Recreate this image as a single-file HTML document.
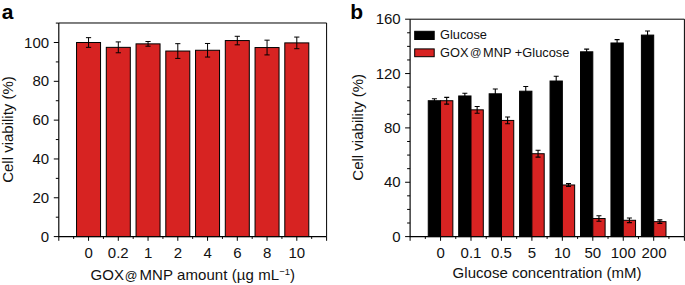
<!DOCTYPE html>
<html><head><meta charset="utf-8"><title>Figure</title>
<style>
html,body{margin:0;padding:0;background:#fff;}
body{width:685px;height:285px;overflow:hidden;font-family:"Liberation Sans", sans-serif;}
svg{display:block}
.t{font-family:"Liberation Sans", sans-serif;font-size:15px;fill:#111;}
.lg{font-family:"Liberation Sans", sans-serif;font-size:12.8px;fill:#111;}
.pl{font-family:"Liberation Sans", sans-serif;font-size:21px;font-weight:bold;fill:#000;}
</style></head><body>
<svg width="685" height="285" viewBox="0 0 685 285">
<rect width="685" height="285" fill="#fff"/>
<path d="M58.8,22.99 H326.6 V236.6" fill="none" stroke="#000" stroke-width="1"/>
<path d="M58.8,22.99 V236.6 H326.6" fill="none" stroke="#000" stroke-width="1.15"/>
<rect x="76.55" y="42.50" width="24.00" height="194.10" fill="#d72322" stroke="#000" stroke-width="1"/>
<path d="M88.55,37.65 V47.35 M85.95,37.65 H91.15 M85.95,47.35 H91.15" fill="none" stroke="#000" stroke-width="1.0"/>
<rect x="106.30" y="47.35" width="24.00" height="189.25" fill="#d72322" stroke="#000" stroke-width="1"/>
<path d="M118.30,41.92 V52.79 M115.70,41.92 H120.90 M115.70,52.79 H120.90" fill="none" stroke="#000" stroke-width="1.0"/>
<rect x="136.05" y="43.86" width="24.00" height="192.74" fill="#d72322" stroke="#000" stroke-width="1"/>
<path d="M148.05,41.53 V46.19 M145.45,41.53 H150.65 M145.45,46.19 H150.65" fill="none" stroke="#000" stroke-width="1.0"/>
<rect x="165.80" y="51.04" width="24.00" height="185.56" fill="#d72322" stroke="#000" stroke-width="1"/>
<path d="M177.80,43.66 V58.42 M175.20,43.66 H180.40 M175.20,58.42 H180.40" fill="none" stroke="#000" stroke-width="1.0"/>
<rect x="195.55" y="50.26" width="24.00" height="186.34" fill="#d72322" stroke="#000" stroke-width="1"/>
<path d="M207.55,43.47 V57.06 M204.95,43.47 H210.15 M204.95,57.06 H210.15" fill="none" stroke="#000" stroke-width="1.0"/>
<rect x="225.30" y="40.56" width="24.00" height="196.04" fill="#d72322" stroke="#000" stroke-width="1"/>
<path d="M237.30,36.29 V44.83 M234.70,36.29 H239.90 M234.70,44.83 H239.90" fill="none" stroke="#000" stroke-width="1.0"/>
<rect x="255.05" y="47.55" width="24.00" height="189.05" fill="#d72322" stroke="#000" stroke-width="1"/>
<path d="M267.05,40.17 V54.92 M264.45,40.17 H269.65 M264.45,54.92 H269.65" fill="none" stroke="#000" stroke-width="1.0"/>
<rect x="284.80" y="42.89" width="24.00" height="193.71" fill="#d72322" stroke="#000" stroke-width="1"/>
<path d="M296.80,37.07 V48.71 M294.20,37.07 H299.40 M294.20,48.71 H299.40" fill="none" stroke="#000" stroke-width="1.0"/>
<path d="M53.80,236.60 H58.8" stroke="#000" stroke-width="1"/>
<text x="49.1" y="241.60" text-anchor="end" class="t">0</text>
<path d="M55.80,217.19 H58.8" stroke="#000" stroke-width="1"/>
<path d="M53.80,197.78 H58.8" stroke="#000" stroke-width="1"/>
<text x="49.1" y="202.78" text-anchor="end" class="t">20</text>
<path d="M55.80,178.37 H58.8" stroke="#000" stroke-width="1"/>
<path d="M53.80,158.96 H58.8" stroke="#000" stroke-width="1"/>
<text x="49.1" y="163.96" text-anchor="end" class="t">40</text>
<path d="M55.80,139.55 H58.8" stroke="#000" stroke-width="1"/>
<path d="M53.80,120.14 H58.8" stroke="#000" stroke-width="1"/>
<text x="49.1" y="125.14" text-anchor="end" class="t">60</text>
<path d="M55.80,100.73 H58.8" stroke="#000" stroke-width="1"/>
<path d="M53.80,81.32 H58.8" stroke="#000" stroke-width="1"/>
<text x="49.1" y="86.32" text-anchor="end" class="t">80</text>
<path d="M55.80,61.91 H58.8" stroke="#000" stroke-width="1"/>
<path d="M53.80,42.50 H58.8" stroke="#000" stroke-width="1"/>
<text x="49.1" y="47.50" text-anchor="end" class="t">100</text>
<path d="M55.80,23.09 H58.8" stroke="#000" stroke-width="1"/>
<path d="M326.60,236.6 v4.2" stroke="#000" stroke-width="1"/>
<path d="M88.55,236.6 v4.2" stroke="#000" stroke-width="1"/>
<text x="88.55" y="258.4" text-anchor="middle" class="t">0</text>
<path d="M118.30,236.6 v4.2" stroke="#000" stroke-width="1"/>
<text x="118.30" y="258.4" text-anchor="middle" class="t">0.2</text>
<path d="M148.05,236.6 v4.2" stroke="#000" stroke-width="1"/>
<text x="148.05" y="258.4" text-anchor="middle" class="t">1</text>
<path d="M177.80,236.6 v4.2" stroke="#000" stroke-width="1"/>
<text x="177.80" y="258.4" text-anchor="middle" class="t">2</text>
<path d="M207.55,236.6 v4.2" stroke="#000" stroke-width="1"/>
<text x="207.55" y="258.4" text-anchor="middle" class="t">4</text>
<path d="M237.30,236.6 v4.2" stroke="#000" stroke-width="1"/>
<text x="237.30" y="258.4" text-anchor="middle" class="t">6</text>
<path d="M267.05,236.6 v4.2" stroke="#000" stroke-width="1"/>
<text x="267.05" y="258.4" text-anchor="middle" class="t">8</text>
<path d="M296.80,236.6 v4.2" stroke="#000" stroke-width="1"/>
<text x="296.80" y="258.4" text-anchor="middle" class="t">10</text>
<path d="M58.80,236.6 v4.2" stroke="#000" stroke-width="1"/>
<path d="M73.67,236.6 v2.3" stroke="#000" stroke-width="1"/>
<path d="M103.42,236.6 v2.3" stroke="#000" stroke-width="1"/>
<path d="M133.18,236.6 v2.3" stroke="#000" stroke-width="1"/>
<path d="M162.93,236.6 v2.3" stroke="#000" stroke-width="1"/>
<path d="M192.68,236.6 v2.3" stroke="#000" stroke-width="1"/>
<path d="M222.43,236.6 v2.3" stroke="#000" stroke-width="1"/>
<path d="M252.18,236.6 v2.3" stroke="#000" stroke-width="1"/>
<path d="M281.93,236.6 v2.3" stroke="#000" stroke-width="1"/>
<path d="M311.68,236.6 v2.3" stroke="#000" stroke-width="1"/>
<text x="90.6" y="280.1" class="t">GOX<tspan dx="0.8" dy="-0.5" font-size="12.5">@</tspan><tspan dx="2.0" dy="0.5" letter-spacing="0.08">MNP amount (µg mL</tspan><tspan dy="-5.5" font-size="9.5">−1</tspan><tspan dy="5.5">)</tspan></text>
<text transform="translate(12.9,129.5) rotate(-90)" text-anchor="middle" class="t">Cell viability (%)</text>
<text x="1.7" y="19.4" class="pl">a</text>
<path d="M410.1,19.2 H684.4 V236.6" fill="none" stroke="#000" stroke-width="1"/>
<path d="M410.1,19.2 V236.6 H684.4" fill="none" stroke="#000" stroke-width="1.15"/>
<rect x="428.25" y="100.72" width="12.30" height="135.88" fill="#000" stroke="#000" stroke-width="1"/>
<path d="M434.40,98.69 V102.76 M431.90,98.69 H436.90 M431.90,102.76 H436.90" fill="none" stroke="#000" stroke-width="1.1"/>
<rect x="440.55" y="100.72" width="12.30" height="135.88" fill="#d72322" stroke="#000" stroke-width="1"/>
<path d="M446.70,97.33 V104.12 M444.20,97.33 H449.20 M444.20,104.12 H449.20" fill="none" stroke="#000" stroke-width="1.1"/>
<rect x="458.70" y="95.97" width="12.30" height="140.63" fill="#000" stroke="#000" stroke-width="1"/>
<path d="M464.85,93.25 V98.69 M462.35,93.25 H467.35 M462.35,98.69 H467.35" fill="none" stroke="#000" stroke-width="1.1"/>
<rect x="471.00" y="109.83" width="12.30" height="126.77" fill="#d72322" stroke="#000" stroke-width="1"/>
<path d="M477.15,106.43 V113.23 M474.65,106.43 H479.65 M474.65,113.23 H479.65" fill="none" stroke="#000" stroke-width="1.1"/>
<rect x="489.15" y="93.80" width="12.30" height="142.80" fill="#000" stroke="#000" stroke-width="1"/>
<path d="M495.30,89.04 V98.55 M492.80,89.04 H497.80 M492.80,98.55 H497.80" fill="none" stroke="#000" stroke-width="1.1"/>
<rect x="501.45" y="120.43" width="12.30" height="116.17" fill="#d72322" stroke="#000" stroke-width="1"/>
<path d="M507.60,117.03 V123.82 M505.10,117.03 H510.10 M505.10,123.82 H510.10" fill="none" stroke="#000" stroke-width="1.1"/>
<rect x="519.60" y="91.21" width="12.30" height="145.39" fill="#000" stroke="#000" stroke-width="1"/>
<path d="M525.75,86.46 V95.97 M523.25,86.46 H528.25 M523.25,95.97 H528.25" fill="none" stroke="#000" stroke-width="1.1"/>
<rect x="531.90" y="153.72" width="12.30" height="82.88" fill="#d72322" stroke="#000" stroke-width="1"/>
<path d="M538.05,150.32 V157.11 M535.55,150.32 H540.55 M535.55,157.11 H540.55" fill="none" stroke="#000" stroke-width="1.1"/>
<rect x="550.05" y="81.02" width="12.30" height="155.58" fill="#000" stroke="#000" stroke-width="1"/>
<path d="M556.20,76.27 V85.78 M553.70,76.27 H558.70 M553.70,85.78 H558.70" fill="none" stroke="#000" stroke-width="1.1"/>
<rect x="562.35" y="184.97" width="12.30" height="51.63" fill="#d72322" stroke="#000" stroke-width="1"/>
<path d="M568.50,183.61 V186.33 M566.00,183.61 H571.00 M566.00,186.33 H571.00" fill="none" stroke="#000" stroke-width="1.1"/>
<rect x="580.50" y="51.81" width="12.30" height="184.79" fill="#000" stroke="#000" stroke-width="1"/>
<path d="M586.65,49.09 V54.53 M584.15,49.09 H589.15 M584.15,54.53 H589.15" fill="none" stroke="#000" stroke-width="1.1"/>
<rect x="592.80" y="218.53" width="12.30" height="18.07" fill="#d72322" stroke="#000" stroke-width="1"/>
<path d="M598.95,215.81 V221.25 M596.45,215.81 H601.45 M596.45,221.25 H601.45" fill="none" stroke="#000" stroke-width="1.1"/>
<rect x="610.95" y="42.98" width="12.30" height="193.62" fill="#000" stroke="#000" stroke-width="1"/>
<path d="M617.10,39.58 V46.37 M614.60,39.58 H619.60 M614.60,46.37 H619.60" fill="none" stroke="#000" stroke-width="1.1"/>
<rect x="623.25" y="220.29" width="12.30" height="16.31" fill="#d72322" stroke="#000" stroke-width="1"/>
<path d="M629.40,217.99 V222.60 M626.90,217.99 H631.90 M626.90,222.60 H631.90" fill="none" stroke="#000" stroke-width="1.1"/>
<rect x="641.40" y="35.10" width="12.30" height="201.50" fill="#000" stroke="#000" stroke-width="1"/>
<path d="M647.55,31.02 V39.17 M645.05,31.02 H650.05 M645.05,39.17 H650.05" fill="none" stroke="#000" stroke-width="1.1"/>
<rect x="653.70" y="221.65" width="12.30" height="14.95" fill="#d72322" stroke="#000" stroke-width="1"/>
<path d="M659.85,219.89 V223.42 M657.35,219.89 H662.35 M657.35,223.42 H662.35" fill="none" stroke="#000" stroke-width="1.1"/>
<path d="M405.10,236.60 H410.1" stroke="#000" stroke-width="1"/>
<text x="400.7" y="241.60" text-anchor="end" class="t">0</text>
<path d="M407.10,223.01 H410.1" stroke="#000" stroke-width="1"/>
<path d="M407.10,209.42 H410.1" stroke="#000" stroke-width="1"/>
<path d="M407.10,195.84 H410.1" stroke="#000" stroke-width="1"/>
<path d="M405.10,182.25 H410.1" stroke="#000" stroke-width="1"/>
<text x="400.7" y="187.25" text-anchor="end" class="t">40</text>
<path d="M407.10,168.66 H410.1" stroke="#000" stroke-width="1"/>
<path d="M407.10,155.07 H410.1" stroke="#000" stroke-width="1"/>
<path d="M407.10,141.49 H410.1" stroke="#000" stroke-width="1"/>
<path d="M405.10,127.90 H410.1" stroke="#000" stroke-width="1"/>
<text x="400.7" y="132.90" text-anchor="end" class="t">80</text>
<path d="M407.10,114.31 H410.1" stroke="#000" stroke-width="1"/>
<path d="M407.10,100.72 H410.1" stroke="#000" stroke-width="1"/>
<path d="M407.10,87.14 H410.1" stroke="#000" stroke-width="1"/>
<path d="M405.10,73.55 H410.1" stroke="#000" stroke-width="1"/>
<text x="400.7" y="78.55" text-anchor="end" class="t">120</text>
<path d="M407.10,59.96 H410.1" stroke="#000" stroke-width="1"/>
<path d="M407.10,46.37 H410.1" stroke="#000" stroke-width="1"/>
<path d="M407.10,32.79 H410.1" stroke="#000" stroke-width="1"/>
<path d="M405.10,19.20 H410.1" stroke="#000" stroke-width="1"/>
<text x="400.7" y="24.20" text-anchor="end" class="t">160</text>
<path d="M684.40,236.6 v4.2" stroke="#000" stroke-width="1"/>
<path d="M440.55,236.6 v4.2" stroke="#000" stroke-width="1"/>
<text x="440.55" y="258.4" text-anchor="middle" class="t">0</text>
<path d="M471.00,236.6 v4.2" stroke="#000" stroke-width="1"/>
<text x="471.00" y="258.4" text-anchor="middle" class="t">0.1</text>
<path d="M501.45,236.6 v4.2" stroke="#000" stroke-width="1"/>
<text x="501.45" y="258.4" text-anchor="middle" class="t">0.5</text>
<path d="M531.90,236.6 v4.2" stroke="#000" stroke-width="1"/>
<text x="531.90" y="258.4" text-anchor="middle" class="t">5</text>
<path d="M562.35,236.6 v4.2" stroke="#000" stroke-width="1"/>
<text x="562.35" y="258.4" text-anchor="middle" class="t">10</text>
<path d="M592.80,236.6 v4.2" stroke="#000" stroke-width="1"/>
<text x="592.80" y="258.4" text-anchor="middle" class="t">50</text>
<path d="M623.25,236.6 v4.2" stroke="#000" stroke-width="1"/>
<text x="623.25" y="258.4" text-anchor="middle" class="t">100</text>
<path d="M653.70,236.6 v4.2" stroke="#000" stroke-width="1"/>
<text x="654.00" y="258.4" text-anchor="middle" class="t">200</text>
<path d="M410.10,236.6 v4.2" stroke="#000" stroke-width="1"/>
<path d="M425.32,236.6 v2.3" stroke="#000" stroke-width="1"/>
<path d="M455.78,236.6 v2.3" stroke="#000" stroke-width="1"/>
<path d="M486.23,236.6 v2.3" stroke="#000" stroke-width="1"/>
<path d="M516.67,236.6 v2.3" stroke="#000" stroke-width="1"/>
<path d="M547.12,236.6 v2.3" stroke="#000" stroke-width="1"/>
<path d="M577.58,236.6 v2.3" stroke="#000" stroke-width="1"/>
<path d="M608.02,236.6 v2.3" stroke="#000" stroke-width="1"/>
<path d="M638.48,236.6 v2.3" stroke="#000" stroke-width="1"/>
<path d="M668.92,236.6 v2.3" stroke="#000" stroke-width="1"/>
<text x="452.6" y="277.9" textLength="189.0" class="t">Glucose concentration (mM)</text>
<text transform="translate(363,127.3) rotate(-90)" text-anchor="middle" class="t">Cell viability (%)</text>
<text x="350.3" y="19" class="pl">b</text>
<rect x="414.7" y="31.3" width="19.5" height="8.2" fill="#000" stroke="#000"/>
<text x="440" y="39.1" class="lg">Glucose</text>
<rect x="414.7" y="48.9" width="19.5" height="7.8" fill="#d72322" stroke="#000"/>
<text x="440" y="56.8" class="lg">GOX<tspan dx="1.6" dy="-0.4" font-size="11.3">@</tspan><tspan dx="1.6" dy="0.4">MNP +Glucose</tspan></text>
</svg>
</body></html>
